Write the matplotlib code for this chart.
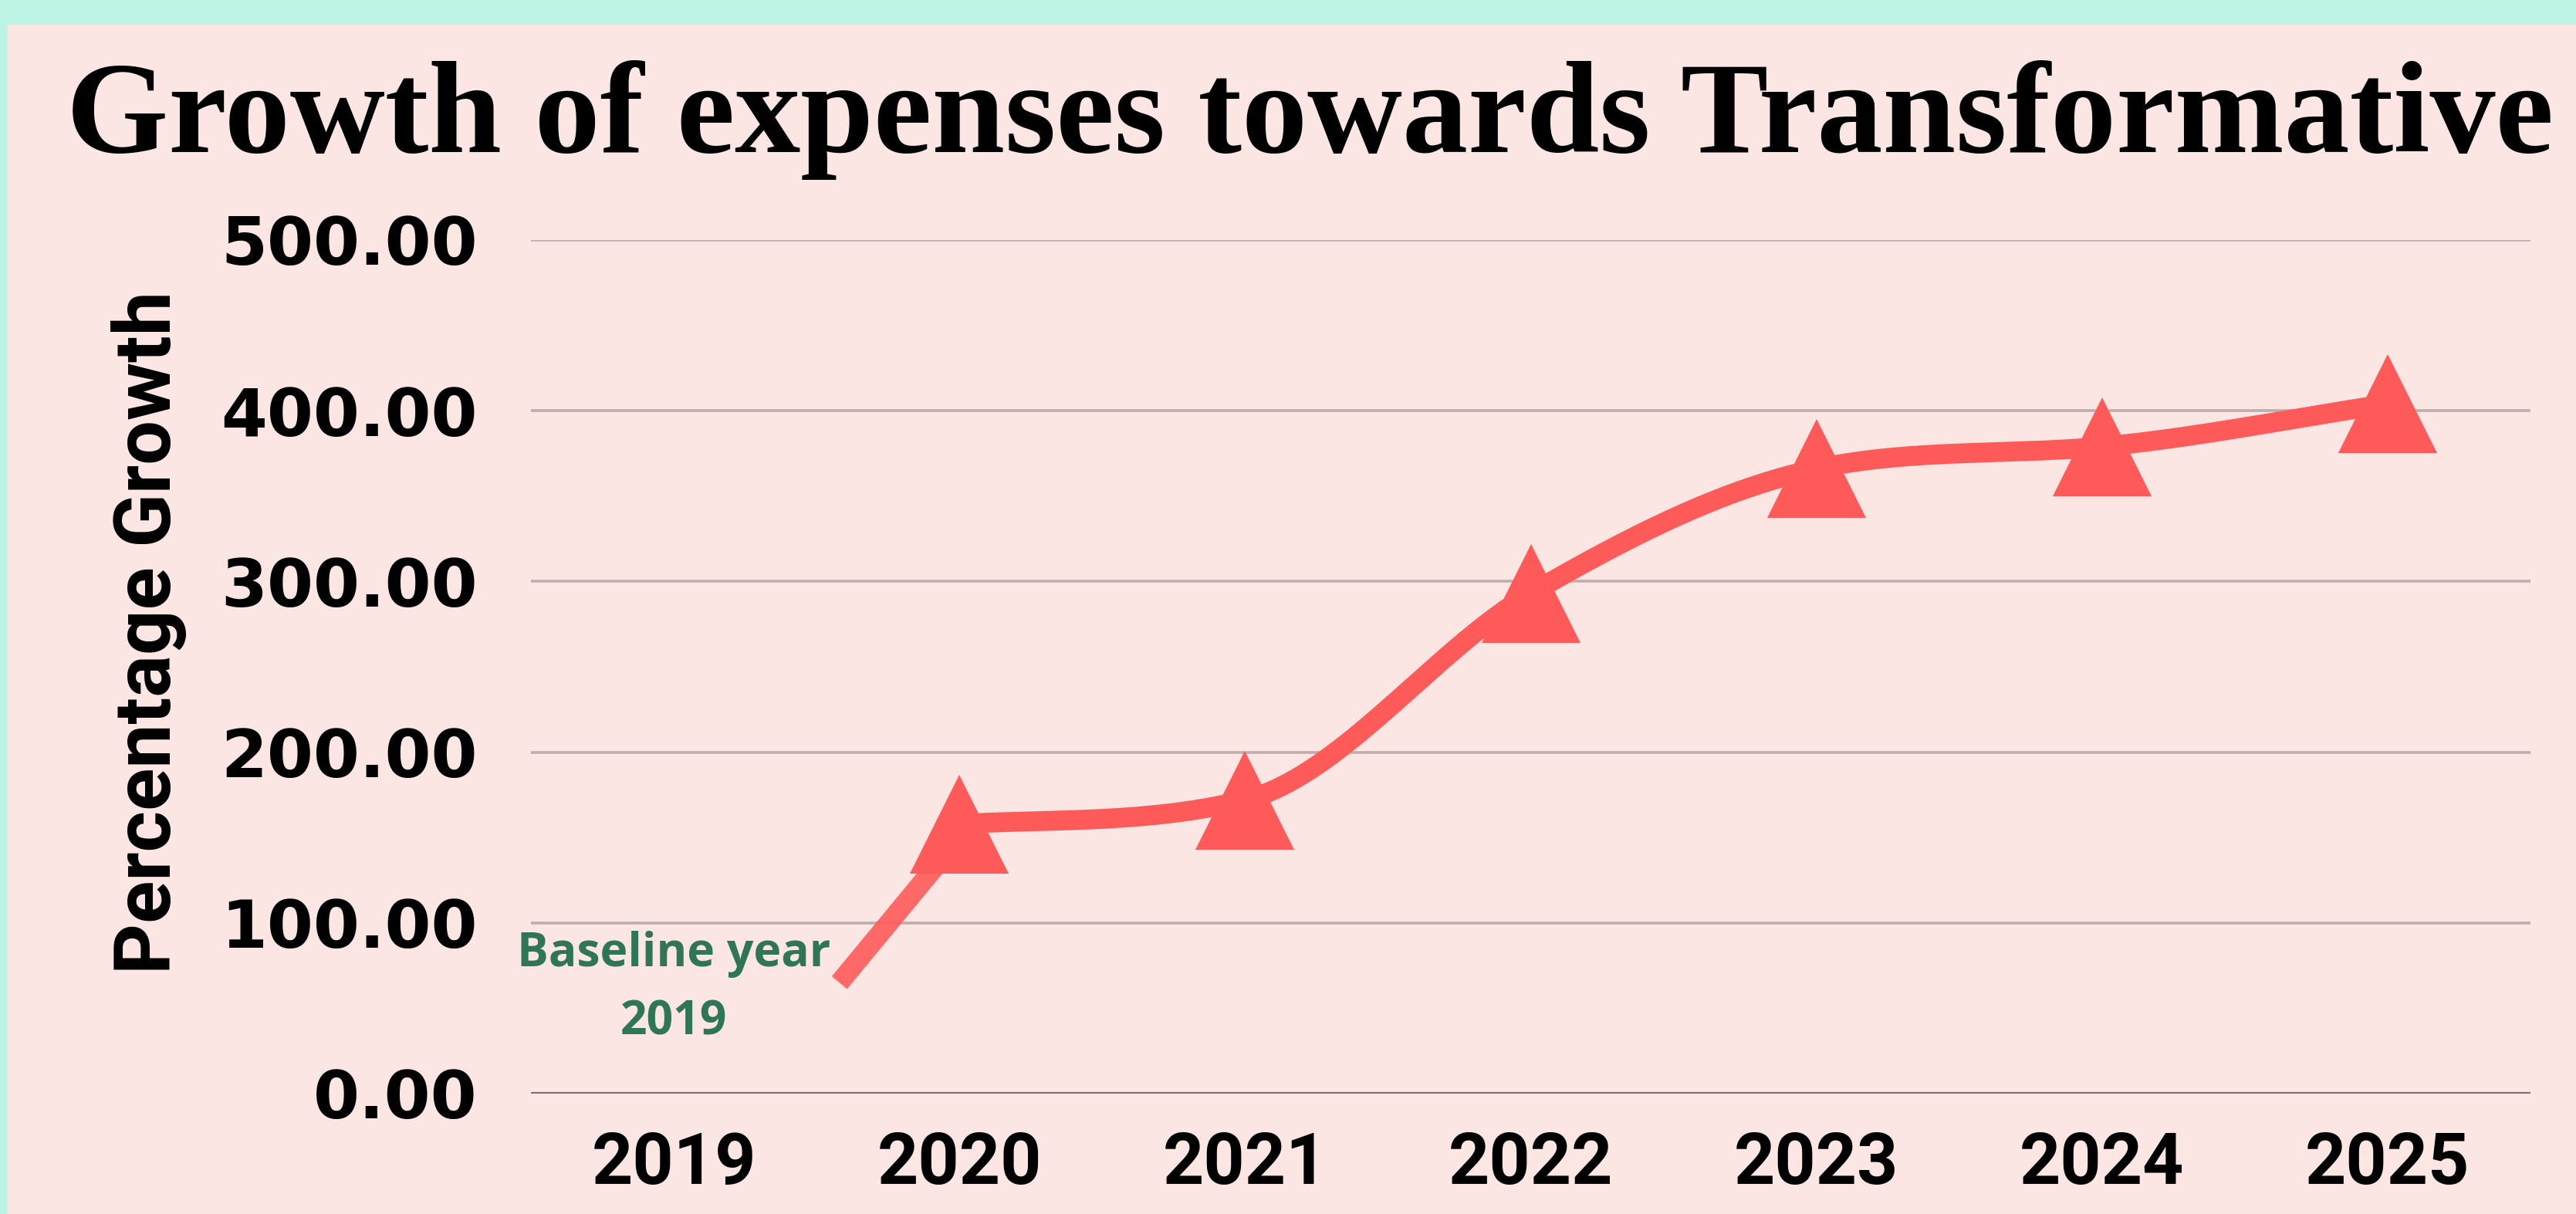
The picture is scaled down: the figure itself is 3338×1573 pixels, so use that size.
import matplotlib
matplotlib.use("Agg")
import matplotlib.pyplot as plt
import numpy as np
from matplotlib.patches import Rectangle

# ---------------- data ----------------
years = ["2019", "2020", "2021", "2022", "2023", "2024", "2025"]
growth = [np.nan, 158, 172, 293, 366, 379, 404]      # 2019 = baseline (no marker)
connector_index = [0.58, 1.0]                         # short straight lead-in line
connector_value = [65, 150]
yticks = [0, 100, 200, 300, 400, 500]
title = "Growth of expenses towards Transformative"
ylabel = "Percentage Growth"
note_lines = ["Baseline year", "2019"]

# ---------------- style ----------------
MINT = "#BDF4E6"
PINK = "#FCE6E4"
RED = "#FF5A5A"
GREEN = "#2F7557"
GRID = "#BFAEAE"

W, H = 3338, 1573
fig = plt.figure(figsize=(W / 100, H / 100), dpi=100)
fig.patch.set_facecolor(MINT)
fig.patches.append(Rectangle((10 / W, 0), 1 - 10 / W, 1 - 32 / H,
                             transform=fig.transFigure, facecolor=PINK,
                             edgecolor="none", zorder=-10))

ax = fig.add_axes([688 / W, 1 - 1417 / H, (3279 - 688) / W, (1417 - 311) / H])
ax.set_facecolor("none")
ax.set_xlim(-0.5, len(years) - 0.5)
ax.set_ylim(0, 500)
for sp in ax.spines.values():
    sp.set_visible(False)

ax.set_yticks(yticks)
ax.set_yticklabels([f"{v:.2f}" for v in yticks])
ax.set_xticks(range(len(years)))
ax.set_xticklabels(years)
ax.tick_params(length=0)
ax.tick_params(axis="y", pad=50, labelsize=62)
ax.tick_params(axis="x", pad=34, labelsize=67)
for lbl in ax.get_yticklabels():
    lbl.set_fontfamily("DejaVu Sans")
    lbl.set_fontweight("bold")
for lbl in ax.get_xticklabels():
    lbl.set_fontfamily("Roboto")
    lbl.set_fontweight("bold")

ax.yaxis.grid(True, color=GRID, lw=2.6)
ax.set_axisbelow(True)
ax.axhline(0, color="#7B6E6E", lw=3, zorder=1)


# ---------------- monotone cubic (Fritsch-Carlson, Chart.js style) ----------------
def monotone(xs, ys, n=80):
    xs = np.asarray(xs, float)
    ys = np.asarray(ys, float)
    k = len(xs)
    h = np.diff(xs)
    d = np.diff(ys) / h
    m = np.zeros(k)
    m[0] = d[0]
    m[-1] = d[-1]
    for i in range(1, k - 1):
        m[i] = 0.0 if d[i - 1] * d[i] <= 0 else (d[i - 1] + d[i]) / 2
    for i in range(k - 1):
        if d[i] == 0:
            m[i] = m[i + 1] = 0
            continue
        a = m[i] / d[i]
        b = m[i + 1] / d[i]
        s = a * a + b * b
        if s > 9:
            tau = 3 / np.sqrt(s)
            m[i] = a * tau * d[i]
            m[i + 1] = b * tau * d[i]
    px, py = [], []
    for i in range(k - 1):
        t = np.linspace(0, 1, n)
        h00 = 2 * t**3 - 3 * t**2 + 1
        h10 = t**3 - 2 * t**2 + t
        h01 = -2 * t**3 + 3 * t**2
        h11 = t**3 - t**2
        px.append(xs[i] + t * h[i])
        py.append(h00 * ys[i] + h10 * h[i] * m[i] + h01 * ys[i + 1]
                  + h11 * h[i] * m[i + 1])
    return np.concatenate(px), np.concatenate(py)


idx = [i for i in range(len(years)) if not np.isnan(growth[i])]
vals = [growth[i] for i in idx]
sx, sy = monotone(idx, vals)

ax.plot(connector_index, connector_value, color=RED, lw=18.5, alpha=0.9,
        solid_capstyle="butt", zorder=3)
ax.plot(sx, sy, color=RED, lw=18.5, solid_capstyle="butt",
        solid_joinstyle="round", zorder=3)

ax.plot(range(len(years)), growth, ls="none", marker="^", ms=92,
        color=RED, mew=0, zorder=4, clip_on=False)

# ---------------- texts ----------------
t1 = ax.text(0, 74.6, note_lines[0], ha="center", va="baseline", color=GREEN,
             fontsize=45, fontfamily="Open Sans", fontweight="bold", zorder=5)
t2 = ax.text(0, 34.4, note_lines[1], ha="center", va="baseline", color=GREEN,
             fontsize=45, fontfamily="Open Sans", fontweight="bold", zorder=5)

ttl = fig.text(1697 / W, 1 - 197 / H, title, ha="center", va="baseline",
               fontsize=114, fontfamily="Liberation Serif", fontweight="bold",
               color="black")

yl = fig.text(193 / W, 1 - 820 / H, ylabel, rotation=90, ha="center", va="center",
              fontsize=64, fontfamily="Roboto", fontweight="bold", color="black")

# fit widths of a few texts
fig.canvas.draw()
r = fig.canvas.get_renderer()


def fit_w(t, target):
    bb = t.get_window_extent(r)
    t.set_fontsize(t.get_fontsize() * target / bb.width)


def fit_h(t, target):
    bb = t.get_window_extent(r)
    t.set_fontsize(t.get_fontsize() * target / bb.height)


fit_w(ttl, 3224)
fit_w(t1, 406)
t2.set_fontsize(t1.get_fontsize())
fit_h(yl, 885)

fig.savefig("out.png", dpi=100, facecolor=fig.get_facecolor())
